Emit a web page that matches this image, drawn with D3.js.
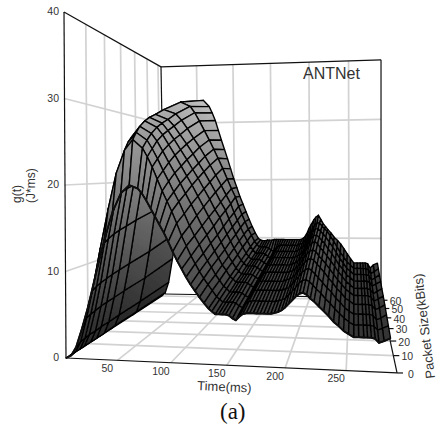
<!DOCTYPE html>
<html>
<head>
<meta charset="utf-8">
<script src="https://cdn.jsdelivr.net/npm/d3@7"></script>
<style>
  html, body { margin: 0; padding: 0; background: #fff; }
  svg { display: block; }
  text { font-family: "Liberation Sans", Arial, sans-serif; fill: #333; }
</style>
</head>
<body>
<div id="chart"></div>
<script>
const timeTicks = [50, 100, 150, 200, 250];
const sizeTicks = [0, 10, 20, 30, 40, 50, 60];
const gTicks = [0, 10, 20, 30, 40];

// measured time columns (ms)
const times = [0,5,10,16,22,30,38,46,54,62,70,74,78,82,86,90,94,98,102,106,110,114,118,122,126,130,134,137,140,143,146,149,152,155,158,161,164,167,170,173,176,179,182,185,188,191,194,197,200,203,206,209,212,215,218,221,224,228,232,236,240,244,248,252,256,260,264,267,270,273,276,280,285];
// mesh rows crowd together on the rising side and open up on the falling side
const sizesRise = [0,2,4,6,9,12,16,22,36,60];
const sizesFall = [0,6.7,13.3,20,26.7,33.3,40,46.7,53.3,60];
const foldWeight = [0,0,0,0,0,0,0,0,0,0,.15,.22,.3,.4,.5,.58,.65,.75,.85,.93,1];

// g(t), one array per mesh row, nearest row first
const gRow0 = [0,.3,1.3,3.5,6,9.9,13.6,16.8,18.9,19.8,19.4,18.8,18,17.1,16.2,15.3,14.4,13.4,12.3,11.3,10.4,9.5,8.7,8,7.3,6.7,6.1,5.8,5.5,5.5,5.5,5.5,5.4,5.1,4.9,5.3,5.6,5.7,5.7,5.7,5.7,5.7,5.7,5.7,5.7,5.8,5.9,6.1,6.4,6.8,7.2,7.6,7.9,8,7.8,7.4,7.1,6.6,6.1,5.6,5,4.6,4.1,3.8,3.5,3.5,3.5,3.5,3.5,3.4,3,3.2,3.5];
const gRow1 = [0,.4,1.6,4.4,7.6,12.5,17.1,21.2,23.8,25,24,23,21.8,20.4,19,17.8,16.6,15.2,13.7,12.5,11.3,10.4,9.5,8.7,8,7.3,6.6,6.3,6,6,6,6,5.9,5.6,5.4,5.8,6.1,6.2,6.2,6.2,6.2,6.2,6.2,6.2,6.2,6.3,6.4,6.6,7,7.4,7.8,8.3,8.6,8.7,8.5,8.1,7.7,7.2,6.6,6.1,5.5,5,4.5,4.1,3.8,3.8,3.8,3.8,3.8,3.7,3.3,3.5,3.8];
const gRow2 = [0,.4,1.7,4.6,7.9,13,17.8,22,24.8,25.9,25,24,22.8,21.4,20.1,18.8,17.6,16.1,14.6,13.3,12.2,11.1,10.2,9.4,8.5,7.8,7.1,6.8,6.4,6.4,6.4,6.4,6.3,6,5.8,6.2,6.6,6.7,6.7,6.7,6.7,6.7,6.7,6.7,6.7,6.8,6.9,7.1,7.5,8,8.4,8.9,9.2,9.4,9.1,8.7,8.3,7.7,7.1,6.6,5.9,5.4,4.8,4.4,4.1,4.1,4.1,4.1,4.1,4,3.5,3.7,4.1];
const gRow3 = [0,.4,1.8,4.7,8.1,13.4,18.4,22.7,25.5,26.7,25.9,25,23.8,22.4,21.1,19.8,18.5,17.1,15.6,14.2,13,11.9,10.9,10,9.1,8.4,7.6,7.3,6.9,6.9,6.9,6.9,6.8,6.5,6.3,6.7,7,7.1,7.1,7.1,7.1,7.1,7.1,7.1,7.1,7.3,7.4,7.6,8,8.5,9,9.5,9.9,10,9.8,9.3,8.9,8.3,7.6,7,6.3,5.8,5.1,4.8,4.4,4.4,4.4,4.4,4.4,4.3,3.8,4,4.4];
const gRow4 = [0,.4,1.8,4.9,8.3,13.8,18.9,23.4,26.3,27.5,26.8,25.9,24.7,23.4,22,20.7,19.5,18,16.5,15.1,13.8,12.6,11.6,10.6,9.7,8.9,8.1,7.7,7.3,7.3,7.3,7.3,7.2,6.9,6.7,7.1,7.4,7.6,7.6,7.6,7.6,7.6,7.6,7.6,7.6,7.7,7.8,8.1,8.5,9,9.6,10.1,10.5,10.6,10.4,9.8,9.4,8.8,8.1,7.4,6.7,6.1,5.5,5.1,4.7,4.7,4.7,4.7,4.7,4.5,4,4.3,4.7];
const gRow5 = [0,.4,1.9,5,8.5,14.1,19.3,23.9,26.8,28.1,27.5,26.6,25.5,24.2,22.9,21.6,20.4,18.9,17.4,15.9,14.7,13.4,12.3,11.3,10.3,9.4,8.6,8.2,7.8,7.8,7.8,7.8,7.6,7.3,7.1,7.6,7.9,8,8,8,8,8,8,8,8,8.2,8.3,8.6,9,9.6,10.2,10.7,11.1,11.3,11,10.4,10,9.3,8.6,7.9,7.1,6.5,5.8,5.4,4.9,4.9,4.9,4.9,4.9,4.8,4.2,4.5,4.9];
const gRow6 = [0,.4,1.9,5.1,8.7,14.4,19.7,24.4,27.4,28.7,28.2,27.4,26.3,25.1,23.8,22.5,21.3,19.8,18.3,16.8,15.5,14.2,13,11.9,10.9,10,9.1,8.6,8.2,8.2,8.2,8.2,8,7.7,7.5,8,8.3,8.5,8.5,8.5,8.5,8.5,8.5,8.5,8.5,8.6,8.8,9.1,9.5,10.1,10.7,11.3,11.8,11.8,11.5,11,10.6,9.8,9.1,8.3,7.5,6.9,6.1,5.7,5.2,5.2,5.2,5.2,5.2,5.1,4.5,4.8,5.2];
const gRow7 = [0,.5,2,5.3,9,14.9,20.4,25.2,28.4,29.7,29.3,28.5,27.4,26.1,24.9,23.6,22.3,20.8,19.2,17.7,16.3,14.9,13.7,12.6,11.5,10.5,9.6,9.1,8.6,8.6,8.6,8.6,8.5,8.1,7.9,8.4,8.8,8.9,8.9,8.9,8.9,8.9,8.9,8.9,8.9,9.1,9.3,9.6,10,10.7,11.3,11.9,12.4,12.4,12,11.6,11.1,10.4,9.6,8.8,7.9,7.2,6.4,6,5.5,5.5,5.5,5.5,5.5,5.3,4.7,5,5.5];
const gRow8 = [0,.5,2.1,5.6,9.6,15.8,21.8,26.9,30.2,31.7,31.2,30.3,29.1,27.7,26.3,24.9,23.5,21.9,20.2,18.6,17.2,15.7,14.4,13.2,12,11,10,9.5,9.1,9.1,9.1,9.1,8.9,8.6,8.4,8.8,9.2,9.4,9.4,9.4,9.4,9.4,9.4,9.4,9.4,9.6,9.7,10.1,10.6,11.3,11.9,12.6,13,13,12.5,12.1,11.7,10.9,10.1,9.2,8.3,7.6,6.8,6.3,5.8,5.8,5.8,5.8,5.8,5.6,5,5.3,5.8];
const gRow9 = [0,.6,2.4,6.5,11,17,23,28,32,33.7,32.6,31.5,30.2,28.5,26.8,25.2,23.6,21.9,20.2,18.7,17.2,15.9,14.6,13.3,12.1,11,10.1,9.8,9.7,9.7,9.8,9.8,9.8,9.9,9.9,9.9,9.9,9.9,9.9,9.9,9.9,9.9,9.9,9.9,9.9,10,10.3,10.9,11.8,12.5,13.2,13.7,14,13.3,12.6,12.1,11.6,11,10.3,9.8,9.2,8.4,7.6,6.8,6.1,6.1,6.1,6.1,6.1,6,5.3,5.8,6.1];
const rows = [gRow0, gRow1, gRow2, gRow3, gRow4, gRow5, gRow6, gRow7, gRow8, gRow9];

const width = 439, height = 430;

const svg = d3.select('#chart').append('svg')
  .attr('width', width)
  .attr('height', height);
const defs = svg.append('defs');

defs.append('filter').attr('id', 'soft')
  .append('feGaussianBlur').attr('stdDeviation', 0.35);

const tScale = d3.scaleLinear().domain([0, 290]).range([0, 1]);
const pScale = d3.scaleLinear().domain([0, 63]).range([0, 1]);
const zScale = d3.scaleLinear().domain([0, 40]).range([0, 1]);
const shade = d3.scaleLinear().domain([0, 34]).range(['#262626', '#c2c2c2']);

// perspective box: floor homography plus vertical scale shrinking with depth
function project(t, p, z) {
  const u = tScale(t), v = pScale(p), w = zScale(z);
  const D = 1 - 0.1187 * u + 0.5236 * v;
  const fx = (283.9 * u + 185.4 * v + 66) / D;
  const fy = (-29.3 * u + 89.9 * v + 358) / D;
  const lean = (1 - u) * (2 + 2 * v) * w;
  return [fx - lean, fy - w * 346 / D * (1 - 0.033 * u * v)];
}

// columns past the end of foldWeight are fully on the falling side
const sizeAt = (r, c) => d3.interpolateNumber(sizesRise[r], sizesFall[r])(c < foldWeight.length ? foldWeight[c] : 1);

const line = d3.line();
const segment = (a, b) => line([a, b]);

// grid on floor and walls
const grid = svg.append('g')
  .attr('fill', 'none')
  .attr('stroke', '#d2d2d2')
  .attr('stroke-width', 1.7)
  .attr('filter', 'url(#soft)');
const [tMax, pMax, zMax] = [tScale.domain()[1], pScale.domain()[1], zScale.domain()[1]];

timeTicks.forEach(t => {
  grid.append('path').attr('d', segment(project(t, 0, 0), project(t, pMax, 0)));
  grid.append('path').attr('d', segment(project(t, pMax, 0), project(t, pMax, zMax)));
});
sizeTicks.slice(1).forEach(p => {
  grid.append('path').attr('d', segment(project(0, p, 0), project(tMax, p, 0)));
  grid.append('path').attr('d', segment(project(0, p, 0), project(0, p, zMax)));
});
gTicks.slice(1, -1).forEach(z => {
  grid.append('path').attr('d', segment(project(0, 0, z), project(0, pMax, z)));
  grid.append('path').attr('d', segment(project(0, pMax, z), project(tMax, pMax, z)));
});

// box edges
const frame = svg.append('g')
  .attr('fill', 'none')
  .attr('stroke', '#111')
  .attr('stroke-width', 1.2);
[
  [[0, 0, 0], [0, 0, zMax]],
  [[0, 0, zMax], [0, pMax, zMax]],
  [[0, pMax, zMax], [tMax, pMax, zMax]],
  [[0, pMax, zMax], [0, pMax, 0]],
  [[tMax, pMax, zMax], [tMax, pMax, 0]],
  [[0, pMax, 0], [tMax, pMax, 0]],
  [[0, 0, 0], [tMax, 0, 0]],
  [[tMax, 0, 0], [tMax, pMax, 0]]
].forEach(e => frame.append('path').attr('d', segment(project(...e[0]), project(...e[1]))));

sizeTicks.forEach(p => {
  const pt = project(tMax, p, 0);
  frame.append('path').attr('d', segment(pt, [pt[0] + 6, pt[1]]));
});

// surface cells, far rows first, then towards the camera inside a row
const cameraT = 250;
const cells = [];
for (let r = rows.length - 2; r >= 0; r--) {
  const cols = d3.range(times.length - 1)
    .sort((a, b) => Math.abs(times[b] - cameraT) - Math.abs(times[a] - cameraT));
  cols.forEach(c => {
    cells.push([
      [times[c], sizeAt(r, c), rows[r][c]],
      [times[c + 1], sizeAt(r, c + 1), rows[r][c + 1]],
      [times[c + 1], sizeAt(r + 1, c + 1), rows[r + 1][c + 1]],
      [times[c], sizeAt(r + 1, c), rows[r + 1][c]]
    ]);
  });
}

const surface = svg.append('g').attr('filter', 'url(#soft)');
cells.forEach((cell, i) => {
  const low = d3.least(cell, d => d[2]);
  const high = d3.greatest(cell, d => d[2]);
  const a = project(...low), b = project(...high);
  const id = 'cell' + i;
  const grad = defs.append('linearGradient')
    .attr('id', id)
    .attr('gradientUnits', 'userSpaceOnUse')
    .attr('x1', a[0]).attr('y1', a[1])
    .attr('x2', b[0]).attr('y2', b[1]);
  grad.append('stop').attr('offset', 0).attr('stop-color', shade(low[2]));
  grad.append('stop').attr('offset', 1).attr('stop-color', shade(high[2]));
  surface.append('path')
    .attr('d', line(cell.map(d => project(...d))) + 'Z')
    .attr('fill', `url(#${id})`)
    .attr('stroke', '#050505')
    .attr('stroke-width', 1.4)
    .attr('stroke-linejoin', 'round');
});

// heavier near edge
surface.append('path')
  .attr('d', line(times.map((t, i) => project(t, 0, rows[0][i]))))
  .attr('fill', 'none')
  .attr('stroke', '#0a0a0a')
  .attr('stroke-width', 1.9);

// tick labels
const labels = svg.append('g').attr('font-size', 10.5);
gTicks.forEach(z => {
  const pt = project(0, 0, z);
  labels.append('text')
    .attr('x', 59).attr('y', pt[1] + 0.5)
    .attr('text-anchor', 'end')
    .attr('dominant-baseline', 'middle')
    .text(z);
});
timeTicks.forEach(t => {
  const pt = project(t, 0, 0);
  labels.append('text')
    .attr('x', pt[0] - 10).attr('y', pt[1] + 9)
    .attr('text-anchor', 'middle')
    .attr('dominant-baseline', 'middle')
    .text(t);
});
sizeTicks.forEach(p => {
  const pt = project(tMax, p, 0);
  labels.append('text')
    .attr('x', pt[0] + 14).attr('y', pt[1] + 2)
    .attr('text-anchor', 'middle')
    .attr('dominant-baseline', 'middle')
    .text(p);
});

// titles
svg.append('text')
  .attr('x', 303).attr('y', 79)
  .attr('font-size', 16)
  .text('ANTNet');
svg.append('text')
  .attr('transform', 'translate(21,203) rotate(-90)')
  .attr('font-size', 12)
  .text('g(t)');
svg.append('text')
  .attr('transform', 'translate(35,203) rotate(-90)')
  .attr('font-size', 12)
  .text('(J*ms)');
svg.append('text')
  .attr('transform', 'translate(197,390) rotate(2.5)')
  .attr('font-size', 13)
  .text('Time(ms)');
svg.append('text')
  .attr('transform', 'translate(435,378) rotate(-97)')
  .attr('font-size', 13)
  .text('Packet Size(kBits)');
svg.append('text')
  .attr('x', 220).attr('y', 419)
  .attr('font-size', 23)
  .style('font-family', '"Liberation Serif", serif')
  .style('fill', '#111')
  .text('(a)');
</script>
</body>
</html>
